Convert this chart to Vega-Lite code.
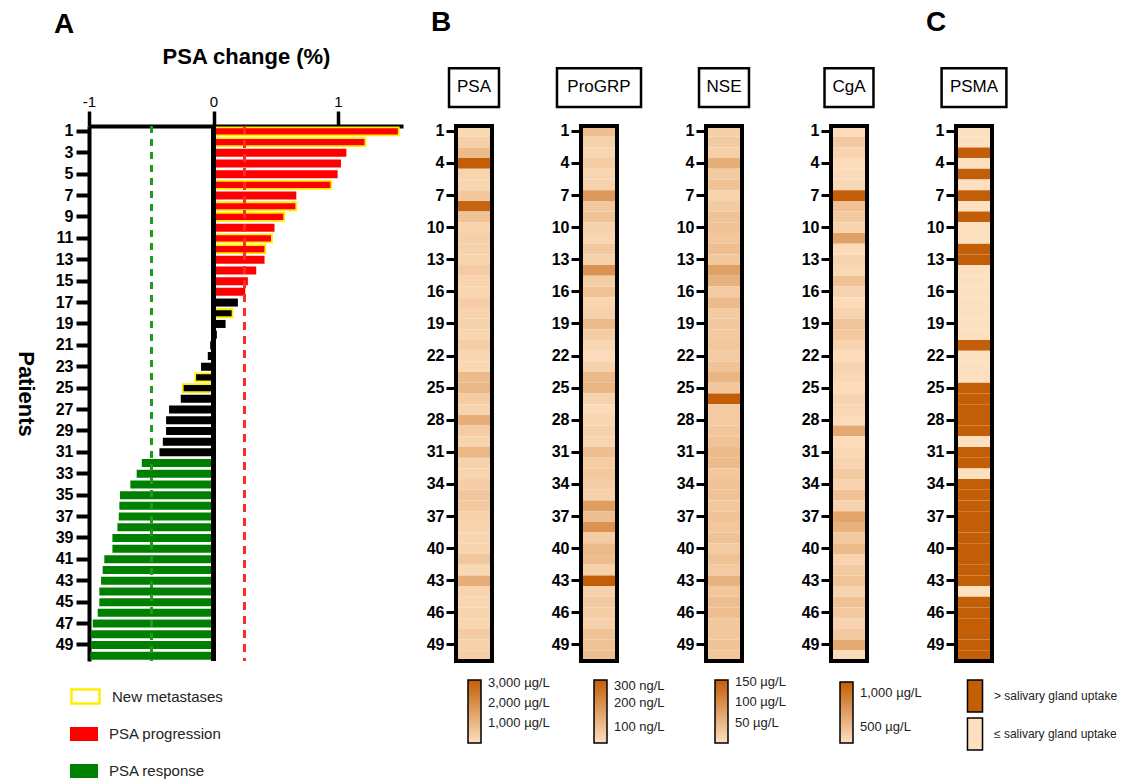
{
  "$schema": "https://vega.github.io/schema/vega-lite/v6.json",
  "padding": {"left": 14, "top": 8, "right": 0, "bottom": 0},
  "config": {
    "font": "Liberation Sans",
    "view": {"stroke": null},
    "axis": {"grid": false, "labelColor": "black", "tickColor": "black", "domainColor": "black", "titleColor": "black"},
    "legend": {"labelColor": "#222222", "labelFont": "Liberation Sans", "padding": 0},
    "title": {"color": "black"}
  },
  "datasets": {
    "psa": [
      {"p": 1, "v": 1.488, "r": "PSA progression", "nm": "New metastases"},
      {"p": 2, "v": 1.22, "r": "PSA progression", "nm": "New metastases"},
      {"p": 3, "v": 1.067, "r": "PSA progression", "nm": "None"},
      {"p": 4, "v": 1.024, "r": "PSA progression", "nm": "None"},
      {"p": 5, "v": 0.997, "r": "PSA progression", "nm": "None"},
      {"p": 6, "v": 0.946, "r": "PSA progression", "nm": "New metastases"},
      {"p": 7, "v": 0.665, "r": "PSA progression", "nm": "None"},
      {"p": 8, "v": 0.665, "r": "PSA progression", "nm": "New metastases"},
      {"p": 9, "v": 0.568, "r": "PSA progression", "nm": "New metastases"},
      {"p": 10, "v": 0.49, "r": "PSA progression", "nm": "None"},
      {"p": 11, "v": 0.469, "r": "PSA progression", "nm": "New metastases"},
      {"p": 12, "v": 0.416, "r": "PSA progression", "nm": "New metastases"},
      {"p": 13, "v": 0.41, "r": "PSA progression", "nm": "None"},
      {"p": 14, "v": 0.343, "r": "PSA progression", "nm": "None"},
      {"p": 15, "v": 0.276, "r": "PSA progression", "nm": "None"},
      {"p": 16, "v": 0.255, "r": "PSA progression", "nm": "None"},
      {"p": 17, "v": 0.196, "r": "Stable", "nm": "None"},
      {"p": 18, "v": 0.153, "r": "Stable", "nm": "New metastases"},
      {"p": 19, "v": 0.097, "r": "Stable", "nm": "None"},
      {"p": 20, "v": 0.027, "r": "Stable", "nm": "None"},
      {"p": 21, "v": -0.027, "r": "Stable", "nm": "None"},
      {"p": 22, "v": -0.046, "r": "Stable", "nm": "None"},
      {"p": 23, "v": -0.1, "r": "Stable", "nm": "None"},
      {"p": 24, "v": -0.147, "r": "Stable", "nm": "New metastases"},
      {"p": 25, "v": -0.247, "r": "Stable", "nm": "New metastases"},
      {"p": 26, "v": -0.263, "r": "Stable", "nm": "None"},
      {"p": 27, "v": -0.357, "r": "Stable", "nm": "None"},
      {"p": 28, "v": -0.381, "r": "Stable", "nm": "None"},
      {"p": 29, "v": -0.381, "r": "Stable", "nm": "None"},
      {"p": 30, "v": -0.407, "r": "Stable", "nm": "None"},
      {"p": 31, "v": -0.434, "r": "Stable", "nm": "None"},
      {"p": 32, "v": -0.576, "r": "PSA response", "nm": "None"},
      {"p": 33, "v": -0.617, "r": "PSA response", "nm": "None"},
      {"p": 34, "v": -0.668, "r": "PSA response", "nm": "None"},
      {"p": 35, "v": -0.751, "r": "PSA response", "nm": "None"},
      {"p": 36, "v": -0.756, "r": "PSA response", "nm": "None"},
      {"p": 37, "v": -0.761, "r": "PSA response", "nm": "None"},
      {"p": 38, "v": -0.772, "r": "PSA response", "nm": "None"},
      {"p": 39, "v": -0.812, "r": "PSA response", "nm": "None"},
      {"p": 40, "v": -0.812, "r": "PSA response", "nm": "None"},
      {"p": 41, "v": -0.877, "r": "PSA response", "nm": "None"},
      {"p": 42, "v": -0.89, "r": "PSA response", "nm": "None"},
      {"p": 43, "v": -0.903, "r": "PSA response", "nm": "None"},
      {"p": 44, "v": -0.917, "r": "PSA response", "nm": "None"},
      {"p": 45, "v": -0.917, "r": "PSA response", "nm": "None"},
      {"p": 46, "v": -0.93, "r": "PSA response", "nm": "None"},
      {"p": 47, "v": -0.97, "r": "PSA response", "nm": "None"},
      {"p": 48, "v": -0.983, "r": "PSA response", "nm": "None"},
      {"p": 49, "v": -0.983, "r": "PSA response", "nm": "None"},
      {"p": 50, "v": -0.99, "r": "PSA response", "nm": "None"}
    ],
    "markers": [
      {"p": 1, "PSA": 200, "ProGRP": 100, "NSE": 20, "CgA": 300, "PSMA": "≤ salivary gland uptake"},
      {"p": 2, "PSA": 400, "ProGRP": 60, "NSE": 25, "CgA": 420, "PSMA": "≤ salivary gland uptake"},
      {"p": 3, "PSA": 900, "ProGRP": 50, "NSE": 20, "CgA": 350, "PSMA": "> salivary gland uptake"},
      {"p": 4, "PSA": 3200, "ProGRP": 70, "NSE": 60, "CgA": 300, "PSMA": "≤ salivary gland uptake"},
      {"p": 5, "PSA": 300, "ProGRP": 50, "NSE": 25, "CgA": 300, "PSMA": "> salivary gland uptake"},
      {"p": 6, "PSA": 250, "ProGRP": 60, "NSE": 35, "CgA": 320, "PSMA": "≤ salivary gland uptake"},
      {"p": 7, "PSA": 600, "ProGRP": 180, "NSE": 15, "CgA": 1150, "PSMA": "> salivary gland uptake"},
      {"p": 8, "PSA": 3000, "ProGRP": 80, "NSE": 25, "CgA": 480, "PSMA": "≤ salivary gland uptake"},
      {"p": 9, "PSA": 700, "ProGRP": 90, "NSE": 35, "CgA": 420, "PSMA": "> salivary gland uptake"},
      {"p": 10, "PSA": 300, "ProGRP": 60, "NSE": 35, "CgA": 350, "PSMA": "≤ salivary gland uptake"},
      {"p": 11, "PSA": 400, "ProGRP": 50, "NSE": 30, "CgA": 700, "PSMA": "≤ salivary gland uptake"},
      {"p": 12, "PSA": 350, "ProGRP": 80, "NSE": 40, "CgA": 300, "PSMA": "> salivary gland uptake"},
      {"p": 13, "PSA": 300, "ProGRP": 60, "NSE": 30, "CgA": 350, "PSMA": "> salivary gland uptake"},
      {"p": 14, "PSA": 500, "ProGRP": 190, "NSE": 75, "CgA": 320, "PSMA": "≤ salivary gland uptake"},
      {"p": 15, "PSA": 300, "ProGRP": 70, "NSE": 55, "CgA": 480, "PSMA": "≤ salivary gland uptake"},
      {"p": 16, "PSA": 250, "ProGRP": 90, "NSE": 25, "CgA": 350, "PSMA": "≤ salivary gland uptake"},
      {"p": 17, "PSA": 450, "ProGRP": 50, "NSE": 45, "CgA": 300, "PSMA": "≤ salivary gland uptake"},
      {"p": 18, "PSA": 300, "ProGRP": 60, "NSE": 25, "CgA": 350, "PSMA": "≤ salivary gland uptake"},
      {"p": 19, "PSA": 350, "ProGRP": 110, "NSE": 30, "CgA": 460, "PSMA": "≤ salivary gland uptake"},
      {"p": 20, "PSA": 250, "ProGRP": 70, "NSE": 25, "CgA": 420, "PSMA": "≤ salivary gland uptake"},
      {"p": 21, "PSA": 450, "ProGRP": 50, "NSE": 30, "CgA": 350, "PSMA": "> salivary gland uptake"},
      {"p": 22, "PSA": 250, "ProGRP": 40, "NSE": 25, "CgA": 300, "PSMA": "≤ salivary gland uptake"},
      {"p": 23, "PSA": 200, "ProGRP": 60, "NSE": 35, "CgA": 350, "PSMA": "≤ salivary gland uptake"},
      {"p": 24, "PSA": 900, "ProGRP": 110, "NSE": 50, "CgA": 320, "PSMA": "≤ salivary gland uptake"},
      {"p": 25, "PSA": 1000, "ProGRP": 120, "NSE": 30, "CgA": 300, "PSMA": "> salivary gland uptake"},
      {"p": 26, "PSA": 500, "ProGRP": 60, "NSE": 160, "CgA": 350, "PSMA": "> salivary gland uptake"},
      {"p": 27, "PSA": 300, "ProGRP": 40, "NSE": 25, "CgA": 320, "PSMA": "> salivary gland uptake"},
      {"p": 28, "PSA": 1200, "ProGRP": 50, "NSE": 25, "CgA": 300, "PSMA": "> salivary gland uptake"},
      {"p": 29, "PSA": 500, "ProGRP": 60, "NSE": 30, "CgA": 650, "PSMA": "> salivary gland uptake"},
      {"p": 30, "PSA": 300, "ProGRP": 50, "NSE": 35, "CgA": 300, "PSMA": "≤ salivary gland uptake"},
      {"p": 31, "PSA": 1000, "ProGRP": 100, "NSE": 45, "CgA": 320, "PSMA": "> salivary gland uptake"},
      {"p": 32, "PSA": 350, "ProGRP": 70, "NSE": 45, "CgA": 350, "PSMA": "> salivary gland uptake"},
      {"p": 33, "PSA": 300, "ProGRP": 80, "NSE": 30, "CgA": 420, "PSMA": "≤ salivary gland uptake"},
      {"p": 34, "PSA": 450, "ProGRP": 70, "NSE": 35, "CgA": 350, "PSMA": "> salivary gland uptake"},
      {"p": 35, "PSA": 600, "ProGRP": 60, "NSE": 35, "CgA": 480, "PSMA": "> salivary gland uptake"},
      {"p": 36, "PSA": 550, "ProGRP": 170, "NSE": 30, "CgA": 350, "PSMA": "> salivary gland uptake"},
      {"p": 37, "PSA": 350, "ProGRP": 100, "NSE": 35, "CgA": 680, "PSMA": "> salivary gland uptake"},
      {"p": 38, "PSA": 300, "ProGRP": 190, "NSE": 30, "CgA": 580, "PSMA": "> salivary gland uptake"},
      {"p": 39, "PSA": 250, "ProGRP": 70, "NSE": 35, "CgA": 420, "PSMA": "> salivary gland uptake"},
      {"p": 40, "PSA": 300, "ProGRP": 110, "NSE": 25, "CgA": 520, "PSMA": "> salivary gland uptake"},
      {"p": 41, "PSA": 600, "ProGRP": 100, "NSE": 35, "CgA": 350, "PSMA": "> salivary gland uptake"},
      {"p": 42, "PSA": 200, "ProGRP": 60, "NSE": 25, "CgA": 420, "PSMA": "> salivary gland uptake"},
      {"p": 43, "PSA": 1200, "ProGRP": 330, "NSE": 55, "CgA": 450, "PSMA": "> salivary gland uptake"},
      {"p": 44, "PSA": 300, "ProGRP": 60, "NSE": 30, "CgA": 350, "PSMA": "≤ salivary gland uptake"},
      {"p": 45, "PSA": 250, "ProGRP": 80, "NSE": 40, "CgA": 480, "PSMA": "> salivary gland uptake"},
      {"p": 46, "PSA": 300, "ProGRP": 70, "NSE": 40, "CgA": 420, "PSMA": "> salivary gland uptake"},
      {"p": 47, "PSA": 250, "ProGRP": 60, "NSE": 30, "CgA": 350, "PSMA": "> salivary gland uptake"},
      {"p": 48, "PSA": 500, "ProGRP": 90, "NSE": 30, "CgA": 420, "PSMA": "> salivary gland uptake"},
      {"p": 49, "PSA": 350, "ProGRP": 90, "NSE": 35, "CgA": 650, "PSMA": "> salivary gland uptake"},
      {"p": 50, "PSA": 450, "ProGRP": 100, "NSE": 30, "CgA": 300, "PSMA": "> salivary gland uptake"}
    ],
    "boxPSA": [{"t": "PSA"}],
    "boxProGRP": [{"t": "ProGRP"}],
    "boxNSE": [{"t": "NSE"}],
    "boxCgA": [{"t": "CgA"}],
    "boxPSMA": [{"t": "PSMA"}]
  },
  "spacing": 23,
  "resolve": {"scale": {"color": "independent", "x": "independent", "y": "independent", "stroke": "independent"}, "legend": {"color": "independent"}},
  "hconcat": [
    {
      "width": 314,
      "height": 535,
      "title": {"text": "A", "anchor": "start", "frame": "group", "fontSize": 28, "fontWeight": "bold", "dx": -35, "offset": 6},
      "data": {"name": "psa"},
      "layer": [
        {
          "mark": {"type": "bar", "strokeWidth": 1.8},
          "encoding": {
            "y": {"field": "p", "type": "ordinal", "sort": "ascending",
              "scale": {"paddingInner": 0.25, "paddingOuter": 0.125},
              "axis": {"values": [1,3,5,7,9,11,13,15,17,19,21,23,25,27,29,31,33,35,37,39,41,43,45,47,49],
                "title": "Patients", "titleAngle": 90, "titleBaseline": "top", "titleAlign": "center", "titleFontSize": 22, "titleFontWeight": "bold", "titlePadding": 20,
                "labelFontSize": 16, "labelFontWeight": "bold", "labelPadding": 3, "labelAngle": 0,
                "tickSize": 13, "tickWidth": 4, "domainWidth": 4}},
            "x": {"field": "v", "type": "quantitative",
              "scale": {"domain": [-1, 1.522], "nice": false, "zero": false},
              "axis": {"orient": "top", "values": [-1, 0, 1], "labelExpr": "'' + datum.value", "title": "PSA change (%)", "titleFontSize": 22, "titleFontWeight": "bold",
                "titlePadding": 26, "labelFontSize": 15, "labelPadding": 2, "labelFlush": false, "tickSize": 15, "tickWidth": 3.5, "domainWidth": 4}},
            "color": {"field": "r", "type": "nominal",
              "scale": {"domain": ["PSA progression", "PSA response", "Stable"], "range": ["#ff0000", "#008000", "#000000"]},
              "legend": {"title": null, "orient": "none", "legendX": -19, "legendY": 594,
                "values": ["PSA progression", "PSA response"],
                "symbolType": "M-1,-0.5H1V0.5H-1Z", "symbolSize": 784, "rowPadding": 15, "symbolStrokeWidth": 0,
                "labelFontSize": 15, "labelOffset": 11, "symbolOpacity": 1}},
            "stroke": {"field": "nm", "type": "nominal",
              "scale": {"domain": ["New metastases", "None"], "range": ["#ffee00", "transparent"]},
              "legend": {"title": null, "orient": "none", "legendX": -19, "legendY": 555,
                "values": ["New metastases"],
                "symbolType": "M-1,-0.5H1V0.5H-1Z", "symbolSize": 784, "symbolStrokeWidth": 2.5, "symbolFillColor": "white",
                "labelFontSize": 15, "labelOffset": 11, "symbolOpacity": 1}}
          }
        },
        {"mark": {"type": "rule", "color": "#1e9a1e", "strokeWidth": 2.5, "strokeDash": [7, 6]}, "encoding": {"x": {"datum": -0.5}}},
        {"mark": {"type": "rule", "color": "#ff2a2a", "strokeWidth": 2.5, "strokeDash": [8, 6]}, "encoding": {"x": {"datum": 0.25}}},
        {"mark": {"type": "rule", "color": "black", "strokeWidth": 4}, "encoding": {"x": {"datum": 0}}}
      ]
    },
    {
      "spacing": 89,
      "bounds": "flush",
      "resolve": {"scale": {"color": "independent", "x": "independent", "y": "independent"}, "legend": {"color": "independent"}},
      "hconcat": [
        {
          "width": 36, "height": 535,
          "title": {"text": "B", "anchor": "start", "frame": "group", "fontSize": 28, "fontWeight": "bold", "dx": -25, "offset": 30},
          "resolve": {"scale": {"y": "independent"}},
          "layer": [
            {
              "data": {"name": "markers"},
              "mark": {"type": "rect"},
              "encoding": {
                "y": {"field": "p", "type": "ordinal", "scale": {"paddingInner": 0, "paddingOuter": 0},
                  "axis": {"values": [1,4,7,10,13,16,19,22,25,28,31,34,37,40,43,46,49], "title": null, "labelFontSize": 16, "labelFontWeight": "bold", "labelPadding": 2, "tickSize": 10, "tickWidth": 3, "domain": false}},
                "color": {"field": "PSA", "type": "quantitative",
                  "scale": {"domain": [0, 3150], "range": ["#fde0c0", "#c25e08"], "interpolate": "rgb", "clamp": true},
                  "legend": {"title": null, "orient": "none", "legendX": 12, "legendY": 554, "direction": "vertical", "gradientLength": 63, "gradientThickness": 13,
                    "gradientStrokeColor": "black", "gradientStrokeWidth": 1.5, "values": [1000, 2000, 3000], "labelExpr": "format(datum.value, ',') + ' µg/L'",
                    "labelFontSize": 13, "labelOffset": 7, "labelOverlap": false}}
              }
            },
            {
              "data": {"name": "boxPSA"},
              "layer": [
                {"mark": {"type": "rect", "fill": null, "stroke": "black", "strokeWidth": 4},
                  "encoding": {"x": {"datum": 0, "type": "quantitative", "scale": {"domain": [0, 1], "nice": false}, "axis": null}, "x2": {"datum": 1},
                    "y": {"datum": 0, "type": "quantitative", "scale": {"domain": [0, 1], "nice": false}, "axis": null}, "y2": {"datum": 1}}},
                {"mark": {"type": "rect", "fill": "white", "stroke": "black", "strokeWidth": 2.5},
                  "encoding": {"x": {"datum": -0.194, "type": "quantitative"}, "x2": {"datum": 1.194}, "y": {"datum": 1.0355, "type": "quantitative"}, "y2": {"datum": 1.108}}},
                {"mark": {"type": "text", "fontSize": 17, "color": "black"},
                  "encoding": {"x": {"datum": 0.5, "type": "quantitative"}, "y": {"datum": 1.072, "type": "quantitative"}, "text": {"field": "t"}}}
              ]
            }
          ]
        },
        {
          "width": 36, "height": 535,
          "resolve": {"scale": {"y": "independent"}},
          "layer": [
            {
              "data": {"name": "markers"},
              "mark": {"type": "rect"},
              "encoding": {
                "y": {"field": "p", "type": "ordinal", "scale": {"paddingInner": 0, "paddingOuter": 0},
                  "axis": {"values": [1,4,7,10,13,16,19,22,25,28,31,34,37,40,43,46,49], "title": null, "labelFontSize": 16, "labelFontWeight": "bold", "labelPadding": 2, "tickSize": 10, "tickWidth": 3, "domain": false}},
                "color": {"field": "ProGRP", "type": "quantitative",
                  "scale": {"domain": [30, 300], "range": ["#fde0c0", "#c25e08"], "interpolate": "rgb", "clamp": true},
                  "legend": {"title": null, "orient": "none", "legendX": 13, "legendY": 554, "direction": "vertical", "gradientLength": 63, "gradientThickness": 13,
                    "gradientStrokeColor": "black", "gradientStrokeWidth": 1.5, "values": [100, 200, 300], "labelExpr": "format(datum.value, ',') + ' ng/L'",
                    "labelFontSize": 13, "labelOffset": 7, "labelOverlap": false}}
              }
            },
            {
              "data": {"name": "boxProGRP"},
              "layer": [
                {"mark": {"type": "rect", "fill": null, "stroke": "black", "strokeWidth": 4},
                  "encoding": {"x": {"datum": 0, "type": "quantitative", "scale": {"domain": [0, 1], "nice": false}, "axis": null}, "x2": {"datum": 1},
                    "y": {"datum": 0, "type": "quantitative", "scale": {"domain": [0, 1], "nice": false}, "axis": null}, "y2": {"datum": 1}}},
                {"mark": {"type": "rect", "fill": "white", "stroke": "black", "strokeWidth": 2.5},
                  "encoding": {"x": {"datum": -0.667, "type": "quantitative"}, "x2": {"datum": 1.667}, "y": {"datum": 1.0355, "type": "quantitative"}, "y2": {"datum": 1.108}}},
                {"mark": {"type": "text", "fontSize": 17, "color": "black"},
                  "encoding": {"x": {"datum": 0.5, "type": "quantitative"}, "y": {"datum": 1.072, "type": "quantitative"}, "text": {"field": "t"}}}
              ]
            }
          ]
        },
        {
          "width": 36, "height": 535,
          "resolve": {"scale": {"y": "independent"}},
          "layer": [
            {
              "data": {"name": "markers"},
              "mark": {"type": "rect"},
              "encoding": {
                "y": {"field": "p", "type": "ordinal", "scale": {"paddingInner": 0, "paddingOuter": 0},
                  "axis": {"values": [1,4,7,10,13,16,19,22,25,28,31,34,37,40,43,46,49], "title": null, "labelFontSize": 16, "labelFontWeight": "bold", "labelPadding": 2, "tickSize": 10, "tickWidth": 3, "domain": false}},
                "color": {"field": "NSE", "type": "quantitative",
                  "scale": {"domain": [0, 155], "range": ["#fde0c0", "#c25e08"], "interpolate": "rgb", "clamp": true},
                  "legend": {"title": null, "orient": "none", "legendX": 9, "legendY": 554, "direction": "vertical", "gradientLength": 63, "gradientThickness": 13,
                    "gradientStrokeColor": "black", "gradientStrokeWidth": 1.5, "values": [50, 100, 150], "labelExpr": "format(datum.value, ',') + ' µg/L'",
                    "labelFontSize": 13, "labelOffset": 7, "labelOverlap": false}}
              }
            },
            {
              "data": {"name": "boxNSE"},
              "layer": [
                {"mark": {"type": "rect", "fill": null, "stroke": "black", "strokeWidth": 4},
                  "encoding": {"x": {"datum": 0, "type": "quantitative", "scale": {"domain": [0, 1], "nice": false}, "axis": null}, "x2": {"datum": 1},
                    "y": {"datum": 0, "type": "quantitative", "scale": {"domain": [0, 1], "nice": false}, "axis": null}, "y2": {"datum": 1}}},
                {"mark": {"type": "rect", "fill": "white", "stroke": "black", "strokeWidth": 2.5},
                  "encoding": {"x": {"datum": -0.194, "type": "quantitative"}, "x2": {"datum": 1.194}, "y": {"datum": 1.0355, "type": "quantitative"}, "y2": {"datum": 1.108}}},
                {"mark": {"type": "text", "fontSize": 17, "color": "black"},
                  "encoding": {"x": {"datum": 0.5, "type": "quantitative"}, "y": {"datum": 1.072, "type": "quantitative"}, "text": {"field": "t"}}}
              ]
            }
          ]
        },
        {
          "width": 36, "height": 535,
          "resolve": {"scale": {"y": "independent"}},
          "layer": [
            {
              "data": {"name": "markers"},
              "mark": {"type": "rect"},
              "encoding": {
                "y": {"field": "p", "type": "ordinal", "scale": {"paddingInner": 0, "paddingOuter": 0},
                  "axis": {"values": [1,4,7,10,13,16,19,22,25,28,31,34,37,40,43,46,49], "title": null, "labelFontSize": 16, "labelFontWeight": "bold", "labelPadding": 2, "tickSize": 10, "tickWidth": 3, "domain": false}},
                "color": {"field": "CgA", "type": "quantitative",
                  "scale": {"domain": [265, 1160], "range": ["#fde0c0", "#c25e08"], "interpolate": "rgb", "clamp": true},
                  "legend": {"title": null, "orient": "none", "legendX": 9, "legendY": 556, "direction": "vertical", "gradientLength": 61, "gradientThickness": 13,
                    "gradientStrokeColor": "black", "gradientStrokeWidth": 1.5, "values": [500, 1000], "labelExpr": "format(datum.value, ',') + ' µg/L'",
                    "labelFontSize": 13, "labelOffset": 7, "labelOverlap": false}}
              }
            },
            {
              "data": {"name": "boxCgA"},
              "layer": [
                {"mark": {"type": "rect", "fill": null, "stroke": "black", "strokeWidth": 4},
                  "encoding": {"x": {"datum": 0, "type": "quantitative", "scale": {"domain": [0, 1], "nice": false}, "axis": null}, "x2": {"datum": 1},
                    "y": {"datum": 0, "type": "quantitative", "scale": {"domain": [0, 1], "nice": false}, "axis": null}, "y2": {"datum": 1}}},
                {"mark": {"type": "rect", "fill": "white", "stroke": "black", "strokeWidth": 2.5},
                  "encoding": {"x": {"datum": -0.18, "type": "quantitative"}, "x2": {"datum": 1.18}, "y": {"datum": 1.0355, "type": "quantitative"}, "y2": {"datum": 1.108}}},
                {"mark": {"type": "text", "fontSize": 17, "color": "black"},
                  "encoding": {"x": {"datum": 0.5, "type": "quantitative"}, "y": {"datum": 1.072, "type": "quantitative"}, "text": {"field": "t"}}}
              ]
            }
          ]
        },
        {
          "width": 36, "height": 535,
          "title": {"text": "C", "anchor": "start", "frame": "group", "fontSize": 28, "fontWeight": "bold", "dx": -30, "offset": 30},
          "resolve": {"scale": {"y": "independent"}},
          "layer": [
            {
              "data": {"name": "markers"},
              "mark": {"type": "rect"},
              "encoding": {
                "y": {"field": "p", "type": "ordinal", "scale": {"paddingInner": 0, "paddingOuter": 0},
                  "axis": {"values": [1,4,7,10,13,16,19,22,25,28,31,34,37,40,43,46,49], "title": null, "labelFontSize": 16, "labelFontWeight": "bold", "labelPadding": 2, "tickSize": 10, "tickWidth": 3, "domain": false}},
                "color": {"field": "PSMA", "type": "nominal",
                  "scale": {"domain": ["> salivary gland uptake", "≤ salivary gland uptake"], "range": ["#c25e08", "#fde0c0"]},
                  "legend": {"title": null, "orient": "none", "legendX": 2, "legendY": 553, "symbolType": "M-0.47,-1H0.47V1H-0.47Z", "symbolSize": 1024,
                    "rowPadding": 0, "symbolStrokeColor": "black", "symbolStrokeWidth": 1.5, "labelFontSize": 12, "labelOffset": 2, "labelLimit": 0, "symbolOpacity": 1}}
              }
            },
            {
              "data": {"name": "boxPSMA"},
              "layer": [
                {"mark": {"type": "rect", "fill": null, "stroke": "black", "strokeWidth": 4},
                  "encoding": {"x": {"datum": 0, "type": "quantitative", "scale": {"domain": [0, 1], "nice": false}, "axis": null}, "x2": {"datum": 1},
                    "y": {"datum": 0, "type": "quantitative", "scale": {"domain": [0, 1], "nice": false}, "axis": null}, "y2": {"datum": 1}}},
                {"mark": {"type": "rect", "fill": "white", "stroke": "black", "strokeWidth": 2.5},
                  "encoding": {"x": {"datum": -0.4, "type": "quantitative"}, "x2": {"datum": 1.4}, "y": {"datum": 1.0355, "type": "quantitative"}, "y2": {"datum": 1.108}}},
                {"mark": {"type": "text", "fontSize": 17, "color": "black"},
                  "encoding": {"x": {"datum": 0.5, "type": "quantitative"}, "y": {"datum": 1.072, "type": "quantitative"}, "text": {"field": "t"}}}
              ]
            }
          ]
        }
      ]
    }
  ]
}
